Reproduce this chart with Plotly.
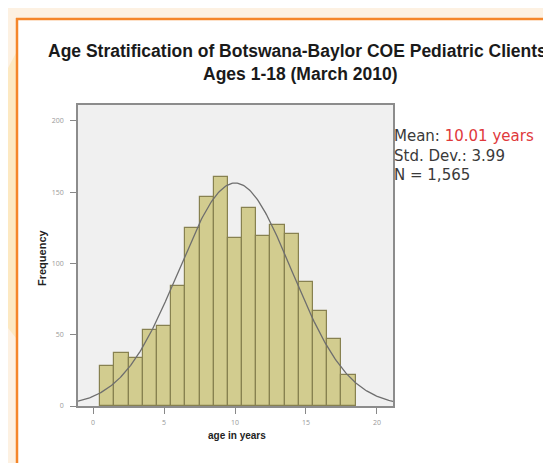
import numpy as np
import plotly.graph_objects as go

# Data
ages = list(range(1, 19))
counts = [28, 37, 34, 53, 56, 84, 125, 147, 161, 118, 139, 119, 127, 121, 87, 67, 47, 22]
MEAN = 10.01
SD = 3.99
N = 1565
x_ticks = [0, 5, 10, 15, 20]
y_ticks = [0, 50, 100, 150, 200]

W, H = 551, 463
L, R, T, B = 70, 385, 97, 398  # plot area pixel box


def px(x):
    return (x - L) / (R - L)


def py(y):
    return (B - y) / (B - T)


# fitted normal curve from the stated statistics (bin width 1)
xc = np.linspace(-1.06, 21.13, 300)
yc = N * np.exp(-0.5 * ((xc - MEAN) / SD) ** 2) / (SD * np.sqrt(2 * np.pi))

fig = go.Figure()
fig.add_trace(go.Bar(
    x=ages, y=counts, width=1,
    marker=dict(color="#d2cc8f", line=dict(color="#878150", width=1.2)),
    hoverinfo="x+y", showlegend=False,
))
fig.add_trace(go.Scatter(
    x=xc, y=yc, mode="lines",
    line=dict(color="#6e6e6e", width=1.3),
    hoverinfo="skip", showlegend=False,
))

cream = "#fdf1e2"
orange = "#f5862a"
shapes = [
    dict(type="rect", xref="paper", yref="paper", x0=px(0), x1=px(W), y0=py(10), y1=py(0),
         fillcolor=cream, line=dict(width=0), layer="below"),
    dict(type="rect", xref="paper", yref="paper", x0=px(0), x1=px(8), y0=py(H), y1=py(0),
         fillcolor=cream, line=dict(width=0), layer="below"),
    dict(type="path", xref="paper", yref="paper",
         path=f"M {px(0)},{py(60)} L {px(8)},{py(45)} L {px(8)},{py(330)} L {px(0)},{py(320)} Z",
         fillcolor="#fde9c2", line=dict(width=0), layer="below"),
    dict(type="line", xref="paper", yref="paper", x0=px(8), x1=px(W), y0=py(11), y1=py(11),
         line=dict(color=orange, width=2.5)),
    dict(type="line", xref="paper", yref="paper", x0=px(9), x1=px(9), y0=py(10), y1=py(H),
         line=dict(color=orange, width=2.5)),
]

FONT = "Liberation Sans, Arial"
annotations = [
    dict(text="<b>Age Stratification of Botswana-Baylor COE Pediatric Clients</b>",
         xref="paper", yref="paper", x=px(289), y=py(43), xanchor="center", yanchor="middle",
         showarrow=False, font=dict(size=17.5, color="#1a1a1a", family=FONT)),
    dict(text="<b>Ages 1-18 (March 2010)</b>",
         xref="paper", yref="paper", x=px(292), y=py(66), xanchor="center", yanchor="middle",
         showarrow=False, font=dict(size=17.5, color="#1a1a1a", family=FONT)),
    dict(text="Mean: <span style='color:#e0393b'>10.01 years</span><br>Std. Dev.: 3.99<br>N = 1,565",
         xref="paper", yref="paper", x=px(384), y=py(147), xanchor="left", yanchor="middle",
         align="left", showarrow=False,
         font=dict(size=15, color="#3a3a3a", family="DejaVu Sans")),
    dict(text="<b>age in years</b>",
         xref="paper", yref="paper", x=px(229), y=py(427), xanchor="center", yanchor="middle",
         showarrow=False, font=dict(size=10, color="#222", family=FONT)),
    dict(text="<b>Frequency</b>", textangle=-90,
         xref="paper", yref="paper", x=px(34), y=py(250), xanchor="center", yanchor="middle",
         showarrow=False, font=dict(size=11, color="#222", family=FONT)),
]

fig.update_layout(
    width=W, height=H,
    margin=dict(l=L, r=W - R, t=T, b=H - B, pad=0),
    paper_bgcolor="white",
    plot_bgcolor="#f0f0f0",
    bargap=0,
    shapes=shapes,
    annotations=annotations,
    xaxis=dict(range=[-1.06, 21.13], tickvals=x_ticks, ticks="outside", ticklen=6,
               tickcolor="#888", tickfont=dict(size=7, color="#999"), showgrid=False,
               zeroline=False, showline=True, linecolor="#8c8c8c", linewidth=1.5, mirror=True,
               ticklabelstandoff=3),
    yaxis=dict(range=[0, 211.2], tickvals=y_ticks, ticks="outside", ticklen=6,
               tickcolor="#888", tickfont=dict(size=7, color="#999"), showgrid=False,
               zeroline=False, showline=True, linecolor="#8c8c8c", linewidth=1.5, mirror=True,
               ticklabelstandoff=5),
)

fig.write_html("out.html")
